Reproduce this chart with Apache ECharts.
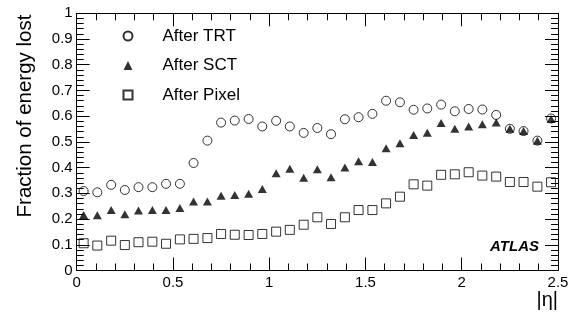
<!DOCTYPE html>
<html><head><meta charset="utf-8">
<script src="https://cdn.jsdelivr.net/npm/echarts@6/dist/echarts.min.js"></script>
<style>html,body{margin:0;padding:0;background:#fff}#c{width:576px;height:316px}</style>
</head><body><div id="c"></div>
<script>
const eta = [0.036,0.107,0.179,0.250,0.321,0.393,0.464,0.536,0.607,0.679,0.750,0.821,0.893,0.964,1.036,1.107,1.179,1.250,1.321,1.393,1.464,1.536,1.607,1.679,1.750,1.821,1.893,1.964,2.036,2.107,2.179,2.250,2.321,2.393,2.464];
const afterTRT = [0.309,0.304,0.333,0.313,0.324,0.324,0.337,0.337,0.418,0.505,0.575,0.583,0.589,0.560,0.582,0.560,0.535,0.554,0.530,0.588,0.596,0.609,0.660,0.654,0.625,0.630,0.645,0.619,0.628,0.626,0.605,0.551,0.542,0.505,0.591];
const afterSCT = [0.216,0.215,0.235,0.219,0.233,0.235,0.235,0.243,0.268,0.268,0.291,0.294,0.298,0.317,0.378,0.396,0.361,0.394,0.363,0.400,0.425,0.422,0.475,0.495,0.527,0.536,0.573,0.551,0.560,0.569,0.575,0.551,0.542,0.504,0.589];
const afterPixel = [0.106,0.097,0.116,0.099,0.110,0.112,0.104,0.121,0.123,0.126,0.142,0.139,0.138,0.142,0.151,0.158,0.178,0.207,0.181,0.207,0.235,0.235,0.261,0.287,0.335,0.330,0.372,0.374,0.382,0.369,0.365,0.344,0.344,0.326,0.343];
const seriesNames = ['After TRT','After SCT','After Pixel'];
const yTitle = 'Fraction of energy lost';
const xTitle = '|η|';

const F = 'Liberation Sans, Arial, Helvetica, sans-serif';
const pair = (ys) => eta.map((x,i)=>[x, ys[i]]);
const axisCommon = {
  axisLine:{show:true,onZero:false,lineStyle:{color:'#000',width:1}},
  axisTick:{show:true,inside:true,length:13,lineStyle:{color:'#000',width:1}},
  minorTick:{show:true,splitNumber:5,length:7,lineStyle:{color:'#000',width:1}},
  splitLine:{show:false}
};
const chart = echarts.init(document.getElementById('c'), null, {renderer:'canvas'});
chart.setOption({
  animation:false,
  backgroundColor:'#fff',
  grid:{left:76.7,right:18,top:13.3,bottom:45.5},
  xAxis:[
    Object.assign({type:'value',min:0,max:2.5,interval:0.5,position:'bottom',
      axisLabel:{color:'#000',fontSize:15,fontFamily:F,margin:5,formatter:v=>String(v)}}, axisCommon),
    Object.assign({type:'value',min:0,max:2.5,interval:0.5,position:'top',axisLabel:{show:false}}, axisCommon)
  ],
  yAxis:[
    Object.assign({type:'value',min:0,max:1,interval:0.1,position:'left',
      axisLabel:{color:'#000',fontSize:15,fontFamily:F,margin:4,formatter:v=>String(+v.toFixed(1))}}, axisCommon),
    Object.assign({type:'value',min:0,max:1,interval:0.1,position:'right',axisLabel:{show:false}}, axisCommon)
  ],
  legend:{
    orient:'vertical',left:122.5,top:26,padding:0,itemWidth:9,itemHeight:9,itemGap:9.5,
    data:seriesNames,
    textStyle:{color:'#000',fontSize:17,fontFamily:F,lineHeight:20,padding:[0,0,0,25]}
  },
  graphic:[
    {type:'text',x:25,y:116,rotation:Math.PI/2,style:{text:yTitle,font:'20.5px '+F,fill:'#000',align:'center',verticalAlign:'middle'}},
    {type:'text',x:558,y:300,style:{text:xTitle,font:'20px '+F,fill:'#000',align:'right',verticalAlign:'middle'}},
    {type:'text',x:539,y:254,style:{text:'ATLAS',font:'italic bold 15px '+F,fill:'#000',align:'right',verticalAlign:'bottom'}}
  ],
  series:[
    {name:seriesNames[0],type:'scatter',data:pair(afterTRT),symbol:'circle',symbolSize:9,
      itemStyle:{color:'rgba(0,0,0,0)',borderColor:'#000',borderWidth:1},z:2},
    {name:seriesNames[1],type:'scatter',data:pair(afterSCT),symbol:'triangle',symbolSize:[9,8],
      itemStyle:{color:'#000'},z:3},
    {name:seriesNames[2],type:'scatter',data:pair(afterPixel),symbol:'rect',symbolSize:9,
      itemStyle:{color:'rgba(0,0,0,0)',borderColor:'#000',borderWidth:1},z:2}
  ]
});
</script></body></html>
